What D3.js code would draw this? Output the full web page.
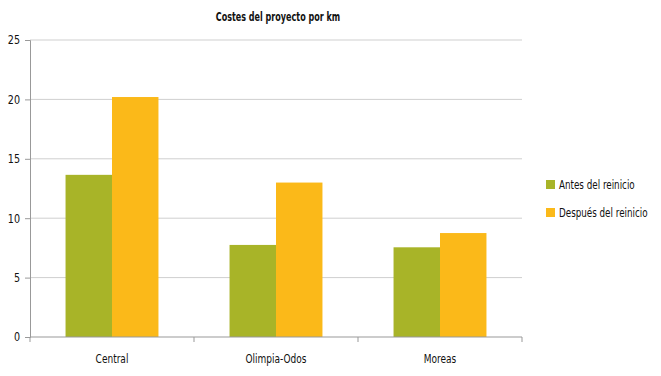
<!DOCTYPE html>
<html>
<head>
<meta charset="utf-8">
<script src="https://cdn.jsdelivr.net/npm/d3@7"></script>
<style>
  body { margin: 0; background: #fff; }
  text { font-family: "DejaVu Sans", sans-serif; fill: #111; }
</style>
</head>
<body>
<svg id="chart" width="661" height="376"></svg>
<script>
const categories = ['Central', 'Olimpia-Odos', 'Moreas'];
const seriesNames = ['Antes del reinicio', 'Después del reinicio'];
const antes = [13.65, 7.75, 7.55];
const despues = [20.2, 13.0, 8.75];
const yTicks = [0, 5, 10, 15, 20, 25];
const colours = ['#a8b428', '#fbb919'];

// squeeze text horizontally to mimic a condensed face
const condense = (sel, factor) => sel.each(function () {
  const w = this.getComputedTextLength();
  d3.select(this).attr('textLength', w * factor).attr('lengthAdjust', 'spacingAndGlyphs');
});

const svg = d3.select('#chart');
const margin = { top: 40, right: 139, bottom: 39, left: 30 };
const innerWidth = +svg.attr('width') - margin.left - margin.right;
const innerHeight = +svg.attr('height') - margin.top - margin.bottom;

const data = categories.map((c, i) => ({ cat: c, values: [antes[i], despues[i]] }));

const x0 = d3.scaleBand().domain(categories).range([0, innerWidth]).padding(0);
const x1 = d3.scaleBand().domain([0, 1]).range([0, x0.bandwidth()])
  .paddingInner(0).paddingOuter(0.765);
const y = d3.scaleLinear().domain([0, 25]).range([innerHeight, 0]);

const g = svg.append('g').attr('transform', `translate(${margin.left},${margin.top})`);

// title
svg.append('text')
  .attr('x', 278).attr('y', 21)
  .attr('text-anchor', 'middle')
  .style('font-size', '12px').style('font-weight', 'bold')
  .text('Costes del proyecto por km')
  .call(condense, 0.67);

// gridlines
g.selectAll('.grid').data(yTicks.filter(t => t > 0)).join('line')
  .attr('class', 'grid')
  .attr('x1', 0).attr('x2', innerWidth)
  .attr('y1', d => y(d)).attr('y2', d => y(d))
  .attr('stroke', '#cfcfcf').attr('stroke-width', 1);

// y axis
const yAxis = d3.axisLeft(y).tickValues(yTicks).tickSize(5).tickPadding(5);
const yAxisG = g.append('g').call(yAxis);
yAxisG.select('.domain').attr('stroke', '#999');
yAxisG.selectAll('.tick line').attr('stroke', '#999');
yAxisG.selectAll('text').style('font-size', '12px').attr('fill', '#111')
  .style('font-family', '"DejaVu Sans", sans-serif')
  .call(condense, 0.8);

// bars
const groups = g.selectAll('.cat').data(data).join('g')
  .attr('class', 'cat')
  .attr('transform', d => `translate(${x0(d.cat)},0)`);

groups.selectAll('rect').data(d => d.values.map((v, i) => ({ v, i }))).join('rect')
  .attr('x', d => x1(d.i))
  .attr('width', x1.bandwidth())
  .attr('y', d => y(d.v))
  .attr('height', d => innerHeight - y(d.v))
  .attr('fill', d => colours[d.i]);

// x axis with ticks at band boundaries
const xAxisG = g.append('g').attr('transform', `translate(0,${innerHeight})`);
xAxisG.append('line')
  .attr('x1', 0).attr('x2', innerWidth)
  .attr('stroke', '#999');
const bounds = categories.map(c => x0(c)).concat([innerWidth]);
xAxisG.selectAll('.xtick').data(bounds).join('line')
  .attr('class', 'xtick')
  .attr('x1', d => d).attr('x2', d => d)
  .attr('y1', 0).attr('y2', 5)
  .attr('stroke', '#999');
xAxisG.selectAll('.xlabel').data(categories).join('text')
  .attr('class', 'xlabel')
  .attr('x', d => x0(d) + x0.bandwidth() / 2)
  .attr('y', 26)
  .attr('text-anchor', 'middle')
  .style('font-size', '12px')
  .text(d => d)
  .call(condense, 0.75);

// legend
const legend = svg.append('g').attr('transform', 'translate(546,180)');
const items = legend.selectAll('g').data(seriesNames).join('g')
  .attr('transform', (d, i) => `translate(0,${i * 28})`);
items.append('rect').attr('width', 9).attr('height', 9).attr('fill', (d, i) => colours[i]);
items.append('text').attr('x', 13).attr('y', 9)
  .style('font-size', '12px')
  .text(d => d)
  .call(condense, 0.73);
</script>
</body>
</html>
